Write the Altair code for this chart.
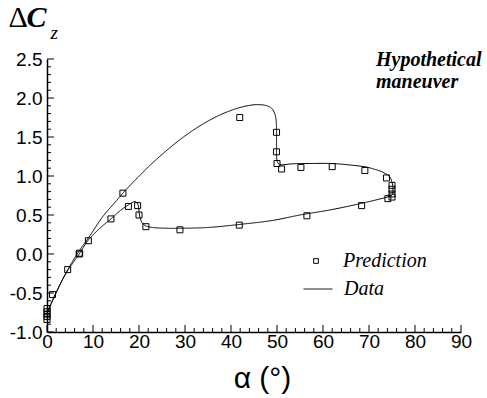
import altair as alt
import pandas as pd

# ---------------- data ----------------
# Prediction (square symbols)
pred_alpha = [0.0, 0.0, 0.0, 0.0, 0.0, 1.2, 4.5, 7.0, 7.1, 9.0, 13.9, 16.5, 17.7,
              19.7, 20.0, 21.5, 28.9, 41.8, 41.9, 49.9, 49.9, 50.0, 51.0, 55.2,
              62.0, 69.1, 73.8, 75.0, 75.0, 75.0, 75.0, 74.1, 68.4, 56.5]
pred_cz = [-0.70, -0.74, -0.77, -0.80, -0.84, -0.52, -0.20, 0.00, 0.01, 0.17, 0.45,
           0.78, 0.61, 0.62, 0.50, 0.35, 0.31, 0.37, 1.75, 1.56, 1.31, 1.16, 1.09,
           1.11, 1.12, 1.07, 0.975, 0.88, 0.83, 0.77, 0.73, 0.71, 0.62, 0.49]

# Data (continuous hysteresis loop, in path order)
data_alpha = [0.0, 2.0, 4.0, 7.0, 9.0, 11.5, 13.9, 16.0, 17.7, 18.7, 19.3, 19.8,
              20.0, 20.2, 20.7, 21.5, 23.0, 26.0, 29.0, 35.0, 42.0, 49.0, 55.0,
              62.0, 68.0, 72.0, 74.5, 75.1, 75.2, 75.2, 75.0, 74.5, 73.0, 71.0,
              69.4, 66.0, 62.0, 57.0, 53.0, 51.0, 50.3, 50.0, 49.9, 49.9, 49.8,
              49.5, 48.8, 47.5, 45.9, 44.0, 41.2, 37.5, 34.0, 31.0, 28.9, 26.8,
              24.6, 22.0, 20.2, 18.3, 16.5, 15.2, 12.0, 9.4, 7.0, 5.0, 3.0, 1.5,
              0.0]
data_cz = [-0.76, -0.50, -0.26, 0.00, 0.18, 0.33, 0.45, 0.56, 0.63, 0.665, 0.67,
           0.63, 0.55, 0.47, 0.40, 0.36, 0.34, 0.33, 0.33, 0.34, 0.38, 0.43, 0.50,
           0.57, 0.645, 0.70, 0.74, 0.76, 0.80, 0.86, 0.92, 0.99, 1.05, 1.09,
           1.115, 1.14, 1.16, 1.16, 1.155, 1.145, 1.16, 1.20, 1.40, 1.60, 1.72,
           1.80, 1.87, 1.905, 1.915, 1.905, 1.865, 1.78, 1.67, 1.556, 1.466,
           1.367, 1.256, 1.115, 1.008, 0.895, 0.78, 0.69, 0.47, 0.24, 0.04,
           -0.15, -0.37, -0.55, -0.76]

x_major = [0, 10, 20, 30, 40, 50, 60, 70, 80, 90]
x_minor = [v for v in range(0, 91, 2) if v % 10 != 0]
y_major = [-1.0, -0.5, 0.0, 0.5, 1.0, 1.5, 2.0, 2.5]
y_minor = [round(-1.0 + 0.1 * i, 1) for i in range(36) if i % 5 != 0]

W, H = 414, 273

df_pred = pd.DataFrame({"alpha": pred_alpha, "cz": pred_cz, "pred": "Prediction"})
df_line = pd.DataFrame({"alpha": data_alpha, "cz": data_cz,
                        "idx": list(range(len(data_alpha))), "dat": "Data"})

xs = alt.Scale(domain=[0, 90], nice=False, zero=False)
ys = alt.Scale(domain=[-1.0, 2.5], nice=False, zero=False)

xaxis = alt.Axis(values=x_major, format="d", labelFont="Liberation Sans",
                 labelFontSize=19, labelColor="black", labelPadding=0,
                 labelFlush=False, labelOverlap=False, ticks=False,
                 grid=False, domainColor="black", domainWidth=1.5,
                 title="α (°)", titleFont="Liberation Sans", titleFontSize=30,
                 titleFontWeight="normal", titleColor="black",
                 titleX=215, titleY=55, titleBaseline="alphabetic")
yaxis = alt.Axis(values=y_major, format=".1f", labelFont="Liberation Sans",
                 labelFontSize=19, labelColor="black", labelPadding=5,
                 labelFlush=False, labelOverlap=False, ticks=False,
                 grid=False, domainColor="black", domainWidth=1.5,
                 labelExpr="replace(datum.label, '\u2212', '-')",
                 title="")

X = lambda: alt.X("alpha:Q", scale=xs, axis=xaxis)
Y = lambda: alt.Y("cz:Q", scale=ys, axis=yaxis)

line = alt.Chart(df_line).mark_line(
    color="black", strokeWidth=1, interpolate="catmull-rom"
).encode(
    x=X(), y=Y(),
    order="idx:Q",
    strokeDash=alt.StrokeDash(
        "dat:N", scale=alt.Scale(domain=["Data"], range=[[1, 0]]),
        legend=alt.Legend(title=None, orient="none", legendX=256, legendY=215,
                          padding=0, symbolType="stroke", symbolSize=841,
                          symbolStrokeColor="black", symbolStrokeWidth=1,
                          labelFont="Liberation Serif", labelFontStyle="italic",
                          labelFontSize=20, labelColor="black", labelOffset=11)),
)

points = alt.Chart(df_pred).mark_point(
    filled=False, color="black", size=36, strokeWidth=1, opacity=1
).encode(
    x=X(), y=Y(),
    shape=alt.Shape(
        "pred:N", scale=alt.Scale(domain=["Prediction"], range=["square"]),
        legend=alt.Legend(title=None, orient="none", legendX=259, legendY=192,
                          padding=0, symbolSize=22, symbolStrokeColor="black",
                          symbolFillColor="transparent", symbolStrokeWidth=1,
                          labelFont="Liberation Serif", labelFontStyle="italic",
                          labelFontSize=20, labelColor="black", labelOffset=17)),
)

# inward ticks
def xticks(vals, length):
    return alt.Chart(pd.DataFrame({"alpha": vals})).mark_rule(
        color="black", strokeWidth=1
    ).encode(x=X(), y=alt.value(H), y2=alt.value(H - length))

def yticks(vals, length):
    return alt.Chart(pd.DataFrame({"cz": vals})).mark_rule(
        color="black", strokeWidth=1
    ).encode(y=Y(), x=alt.value(0), x2=alt.value(length))

def label(txt, x, y, size, font="Liberation Serif", style="normal",
          weight="normal", align="left"):
    return alt.Chart(pd.DataFrame({"t": [txt]})).mark_text(
        font=font, fontSize=size, fontStyle=style, fontWeight=weight,
        align=align, baseline="alphabetic", color="black"
    ).encode(text="t:N", x=alt.value(x), y=alt.value(y))

chart = alt.layer(
    line, points,
    xticks(x_major, 7), xticks(x_minor, 4), yticks(y_major, 7), yticks(y_minor, 4),
    label("Hypothetical", 329, 7, 20, style="italic", weight="bold"),
    label("maneuver", 329, 28.5, 20, style="italic", weight="bold"),
    label("Δ", -38.5, -32, 30),
    label("C", -20.5, -32, 30, style="italic", weight="bold"),
    label("z", 3.5, -20, 19, style="italic"),
).resolve_legend(shape="independent", strokeDash="independent").properties(
    width=W, height=H,
    background="white",
    autosize=alt.AutoSizeParams(type="none"),
    padding={"left": 47, "top": 59, "right": 26, "bottom": 66},
).configure_view(strokeWidth=0).configure_axis(labelOverlap=False)

chart.save("out.html", embed_options={"renderer": "svg", "actions": False})
